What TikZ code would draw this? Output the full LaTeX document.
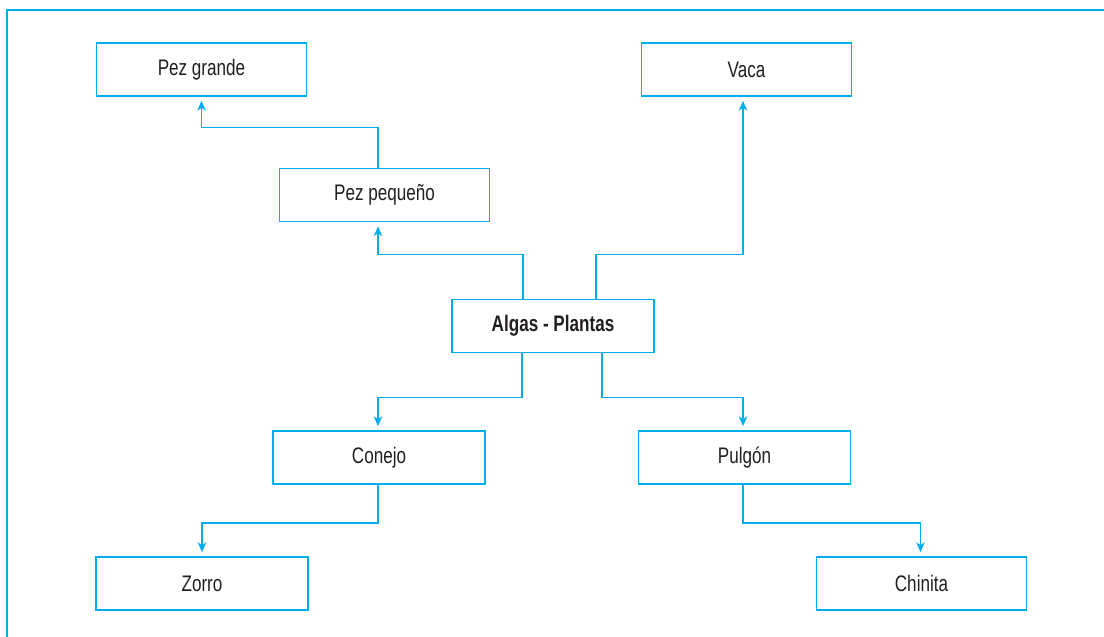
\documentclass[tikz,border=0pt]{standalone}
\usepackage{fontspec}
\setmainfont{Liberation Sans}[FakeStretch=0.76]
\usepackage{tikz}
\usetikzlibrary{positioning, arrows.meta, calc}
\definecolor{Web_Cyan}{HTML}{00AEEF}
\definecolor{Web_Text}{HTML}{231F20}

\begin{document}
\begin{tikzpicture}[x=0.025cm, y=-0.025cm,
  every node/.style={font=\fontsize{16}{18}\selectfont, text=Web_Text},
  arr/.style={-{Stealth[length=7pt, width=6pt, inset=2pt]}, line width=1pt, Web_Cyan},
  box/.style={draw=Web_Cyan, line width=1pt, minimum width=5.25cm,
    minimum height=1.33cm, align=center, inner sep=0pt}
]
  \useasboundingbox (0,0) rectangle (1104,637);

  % Frame (only left and top edges show)
  \draw[line width=1.2pt, Web_Cyan] (7,640) -- (7,10) -- (1110,10);

  % Top row
  \node[box] (pezg) at (201.5,69.5) {Pez grande};
  \node[box] (vaca) at (746.5,69.5) {Vaca};
  \node[box] (pezp) at (384.5,195) {Pez pequeño};

  % Producers
  \node[box, minimum width=5.05cm, font=\fontsize{16}{18}\selectfont\bfseries] (alg) at (553,326) {Algas - Plantas};

  % Lower rows
  \node[box, minimum width=5.3cm] (conejo) at (379,457.5) {Conejo};
  \node[box, minimum width=5.3cm] (pulgon) at (744.5,457.5) {Pulgón};
  \node[box, minimum width=5.3cm] (zorro) at (202,583.5) {Zorro};
  \node[box] (chinita) at (921.5,583.5) {Chinita};

  % Upward links
  \draw[arr] ($(pezp.north)+(-6.5,0)$) -- ++(0,-40) -| ($(pezg.south)+(0,4)$);
  \draw[arr] ($(alg.north)+(-30,0)$) -- ++(0,-44) -| ($(pezp.south)+(-6.5,4)$);
  \draw[arr] ($(alg.north)+(43,0)$) -- ++(0,-44) -| ($(vaca.south)+(-3.5,4)$);

  % Downward links
  \draw[arr] ($(alg.south)+(-31,0)$) -- ++(0,44) -| ($(conejo.north)+(-1,-4)$);
  \draw[arr] ($(alg.south)+(49,0)$) -- ++(0,44) -| ($(pulgon.north)+(-1.5,-4)$);
  \draw[arr] ($(conejo.south)+(-1,0)$) -- ++(0,38) -| ($(zorro.north)+(0,-4)$);
  \draw[arr] ($(pulgon.south)+(-1.5,0)$) -- ++(0,38) -| ($(chinita.north)+(-1,-4)$);
\end{tikzpicture}
\end{document}
